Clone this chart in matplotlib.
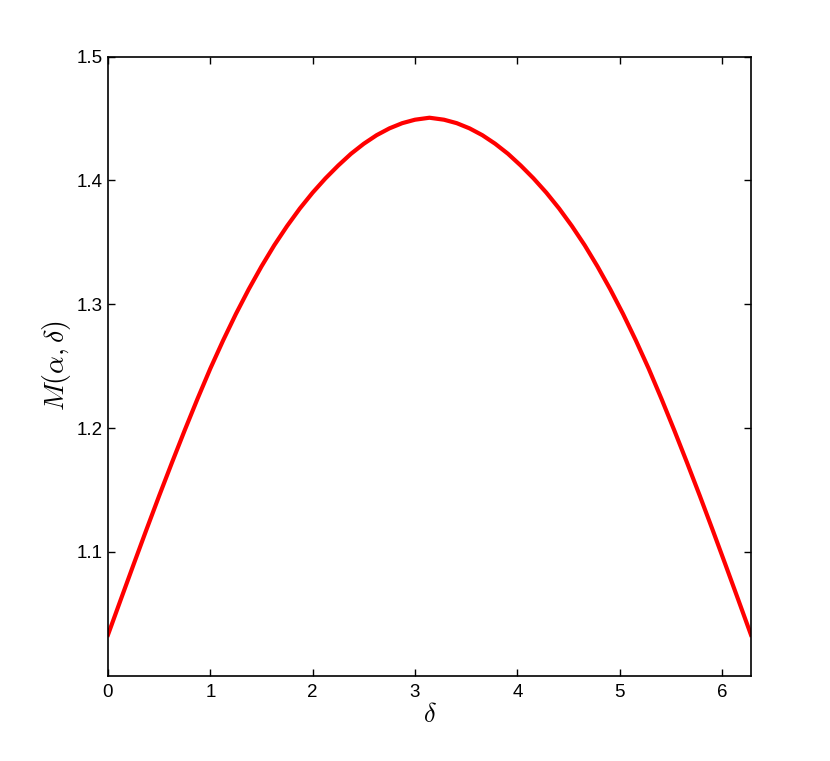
import matplotlib
matplotlib.use("Agg")
import matplotlib.pyplot as plt

# values (it is symmetric about delta = pi)
delta = [0.0, 0.125, 0.25, 0.375, 0.5, 0.625, 0.75, 0.875, 1.0, 1.125,
         1.25, 1.375, 1.5, 1.625, 1.75, 1.875, 2.0, 2.125, 2.25, 2.375,
         2.5, 2.625, 2.75, 2.875, 3.0, 3.1416,
         3.2832, 3.4082, 3.5332, 3.6582, 3.7832, 3.9082, 4.0332, 4.1582,
         4.2832, 4.4082, 4.5332, 4.6582, 4.7832, 4.9082, 5.0332, 5.1582,
         5.2832, 5.4082, 5.5332, 5.6582, 5.7832, 5.9082, 6.0332, 6.1582,
         6.2832]
m_val = [1.0330, 1.0615, 1.0898, 1.1178, 1.1453, 1.1721, 1.1983, 1.2237,
         1.2481, 1.2708, 1.2922, 1.3121, 1.3306, 1.3477, 1.3632, 1.3774,
         1.3902, 1.4017, 1.4121, 1.4216, 1.4297, 1.4366, 1.4421, 1.4463,
         1.4491, 1.4507,
         1.4491, 1.4463, 1.4421, 1.4366, 1.4297, 1.4216, 1.4121, 1.4017,
         1.3902, 1.3774, 1.3632, 1.3477, 1.3306, 1.3121, 1.2922, 1.2708,
         1.2481, 1.2237, 1.1983, 1.1721, 1.1453, 1.1178, 1.0898, 1.0615,
         1.0330]

x_ticks = [0, 1, 2, 3, 4, 5, 6]
y_ticks = [1.1, 1.2, 1.3, 1.4, 1.5]

plt.rcParams['font.family'] = ['Liberation Sans', 'DejaVu Sans']
plt.rcParams['mathtext.fontset'] = 'cm'

fig = plt.figure(figsize=(8.3, 7.61), dpi=100)
ax = fig.add_axes([0.1301, 0.1121, 0.7747, 0.8134])

ax.plot(delta, m_val, color='red', linewidth=3, solid_joinstyle='round')

ax.set_xlim(0, 6.2832)
ax.set_ylim(1.0, 1.5)
ax.set_xticks(x_ticks)
ax.set_yticks(y_ticks)
ax.set_yticklabels([f"{v:.1f}" for v in y_ticks])

ax.tick_params(direction='in', top=True, right=True, length=5, width=1,
               labelsize=13.5, colors='black')
ax.tick_params(axis='x', pad=6)
ax.tick_params(axis='y', pad=4)
for s in ax.spines.values():
    s.set_linewidth(1.2)

ax.set_xlabel(r"$\delta$", fontsize=19)
ax.set_ylabel(r"$M(\alpha,\delta)$", fontsize=20)
ax.xaxis.set_label_coords(0.5, -0.064)
ax.xaxis.label.set_va('center')
ax.yaxis.set_label_coords(-0.08, 0.5)
ax.yaxis.label.set_va('center')

fig.savefig("out.png", dpi=100)
